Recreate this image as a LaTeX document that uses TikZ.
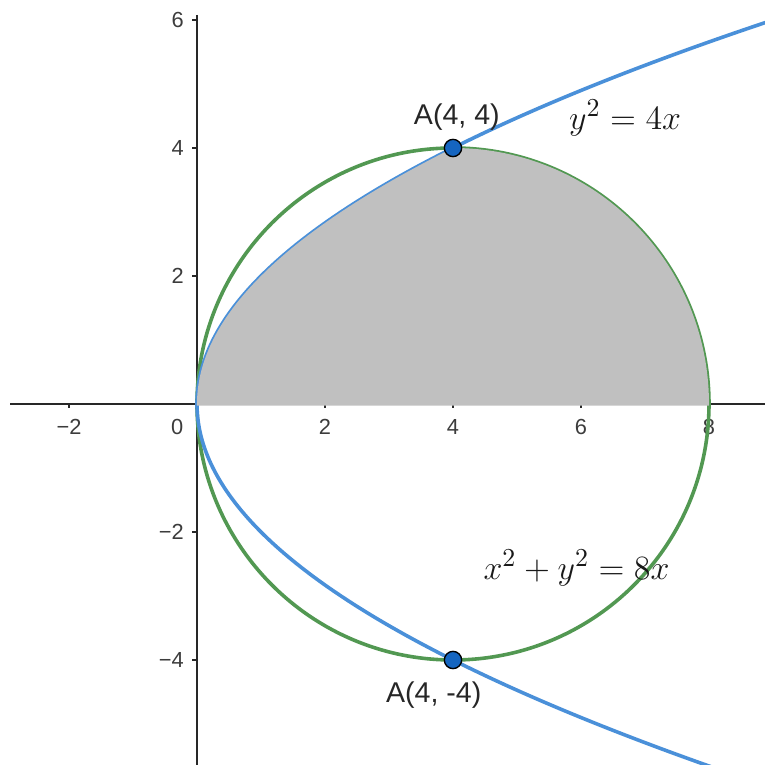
\documentclass[tikz,border=0pt]{standalone}
\usepackage{fontspec}
\newfontfamily\ggbfont{Liberation Sans}
\usetikzlibrary{positioning}

\definecolor{parabBlue}{RGB}{74,144,217}
\definecolor{circGreen}{RGB}{82,152,82}
\definecolor{ptBlue}{RGB}{21,101,192}
\definecolor{regionGray}{RGB}{192,192,192}
\definecolor{axisGray}{RGB}{40,40,40}
\definecolor{tickText}{RGB}{60,60,60}

\begin{document}
\begin{tikzpicture}[
    axis/.style={draw=axisGray, line width=0.7pt},
    tick/.style={draw=axisGray, line width=0.6pt},
    ticklabel/.style={font=\ggbfont\fontsize{9.7}{11}\selectfont, text=tickText, inner sep=0pt},
    parab/.style={draw=parabBlue, line width=1.6pt},
    circ/.style={draw=circGreen, line width=1.6pt},
    region/.style={fill=regionGray},
    dot/.style={circle, draw=black, fill=ptBlue, line width=0.6pt, minimum size=0.27cm, inner sep=0pt},
    ptlabel/.style={font=\ggbfont\fontsize{12.7}{14}\selectfont, text=black!85, inner sep=0pt},
    eqlabel/.style={font=\fontsize{15.6}{18}\selectfont, text=black!90, inner sep=0pt, scale=1.05, transform shape}
]

    \useasboundingbox (-3.078,-5.64) rectangle (8.875,6.3125);
    \clip (-3.078,-5.64) rectangle (8.875,6.3125);

    % Axes
    \draw[axis] (-2.92,0) -- (8.95,0);
    \draw[axis] (0,6.08) -- (0,-5.7);

    % Ticks and their labels
    \foreach \xv/\xl in {-2/{−2},2/2,4/4,6/6,8/8} {
        \draw[tick] (\xv,0) -- (\xv,-0.07);
        \node[ticklabel] (xl\xv) at (\xv,-0.36) {\xl};
    }
    \node[ticklabel] (xl0) at (-0.31,-0.36) {0};
    \foreach \yv/\yl in {-4/{−4},-2/{−2},2/2,4/4,6/6} {
        \draw[tick] (0,\yv) -- (-0.085,\yv);
        \node[ticklabel, anchor=east] (yl\yv) at (-0.2,\yv) {\yl};
    }

    % Curves
    \draw[circ] (4,0) circle[radius=4];
    \draw[parab] plot[domain=-5.75:6.1, samples=120, smooth] ({\x*\x/4},\x);

    % Shaded region (drawn over the curves)
    \fill[region] (0,0) -- plot[domain=0:4, samples=60, smooth] ({\x*\x/4},\x)
        arc[start angle=90, end angle=0, radius=4] -- ++(0,-0.025) -- (0,-0.025) -- cycle;

    % Intersection points
    \node[dot] (A1) at (4,4) {};
    \node[dot] (A2) at (4,-4) {};
    \node[ptlabel] (A1lab) at (4.06,4.48) {A(4, 4)};
    \node[ptlabel] (A2lab) at (3.70,-4.55) {A(4, -4)};

    % Equations
    \node[eqlabel] (parabEq) at (6.69,4.47) {$y^2 = 4x$};
    \node[eqlabel] (circEq) at (5.93,-2.56) {$x^2 + y^2 = 8x$};

\end{tikzpicture}
\end{document}
